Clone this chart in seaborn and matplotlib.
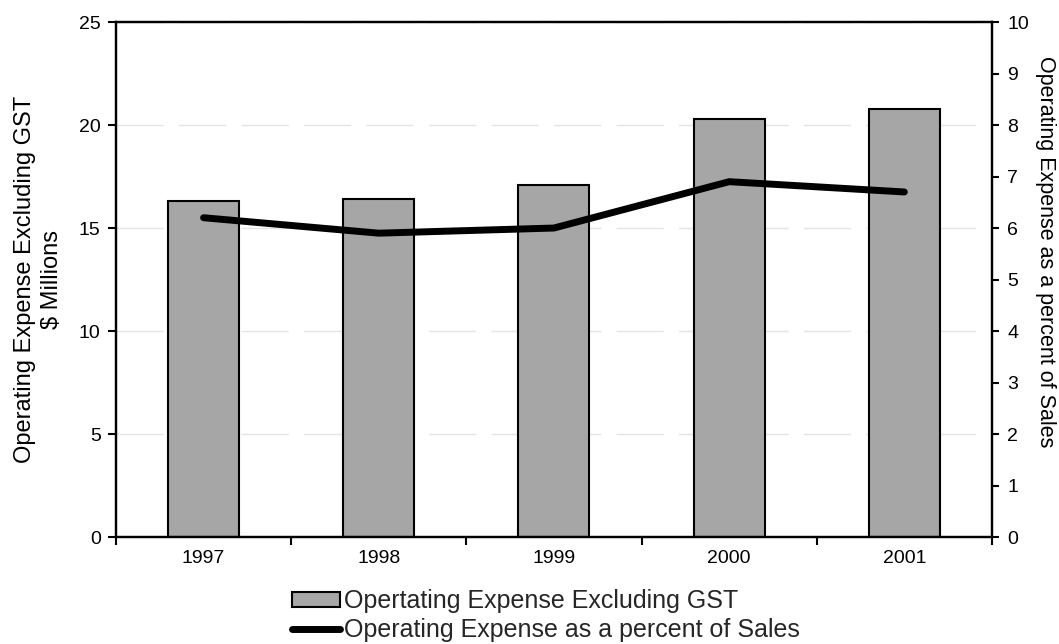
import numpy as np
import pandas as pd
import matplotlib
matplotlib.use("Agg")
import matplotlib.pyplot as plt
import seaborn as sns

# Operating expense data by year
years = ["1997", "1998", "1999", "2000", "2001"]
expense_millions = [16.3, 16.4, 17.1, 20.3, 20.8]
expense_pct_sales = [6.2, 5.9, 6.0, 6.9, 6.7]
left_ticks = [0, 5, 10, 15, 20, 25]
right_ticks = list(range(0, 11))

bar_label = "Opertating Expense Excluding GST"
line_label = "Operating Expense as a percent of Sales"

df = pd.DataFrame({"year": years, "expense": expense_millions, "pct": expense_pct_sales})

sns.set_theme(style="white")
plt.rcParams["font.family"] = ["Liberation Sans", "DejaVu Sans"]

fig = plt.figure(figsize=(10.59, 6.44), dpi=100)
ax = fig.add_axes([0.1095, 0.1661, 0.8272, 0.7997])

sns.barplot(data=df, x="year", y="expense", ax=ax, color="#a6a6a6",
            saturation=1, width=0.405, edgecolor="black", linewidth=1.5,
            zorder=2)

ax2 = ax.twinx()
sns.pointplot(data=df, x="year", y="pct", ax=ax2, color="black",
              markers="", linestyles="-", linewidth=5)
for ln in ax2.lines:
    ln.set_solid_capstyle("round")
    ln.set_solid_joinstyle("round")

# Axes limits and ticks
ax.set_xlim(-0.5, len(years) - 0.5)
ax.set_ylim(0, 25)
ax.set_yticks(left_ticks)
ax2.set_ylim(0, 10)
ax2.set_yticks(right_ticks)

# Major ticks at category boundaries, labels centered on categories
ax.set_xticks(np.arange(-0.5, len(years), 1.0))
ax.set_xticklabels([])
ax.set_xticks(np.arange(len(years)), minor=True)
ax.set_xticklabels(years, minor=True)
ax.tick_params(axis="x", which="major", direction="out", length=6, width=1.5,
               color="black", bottom=True)
ax.tick_params(axis="x", which="minor", length=0, pad=9, labelsize=14,
               labelcolor="black")
ax.tick_params(axis="y", direction="out", length=6, width=1.5, color="black",
               left=True, labelsize=14, labelcolor="black", pad=5)
ax2.tick_params(axis="y", direction="out", length=5, width=1.5, color="black",
                right=True, labelsize=14, labelcolor="black", pad=6)

# Light dashed gridlines
ax.yaxis.grid(True, color="#e4e4e4", linestyle=(0, (34, 11)), linewidth=1.0)
ax.set_axisbelow(True)
ax2.grid(False)

for a in (ax, ax2):
    for sp in a.spines.values():
        sp.set_visible(True)
        sp.set_color("black")
        sp.set_linewidth(1.6)

ax.set_xlabel("")
ax.set_ylabel("Operating Expense Excluding GST\n$ Millions", fontsize=17,
              color="black", linespacing=1.3, va="center", ha="center")
ax.yaxis.set_label_coords(-0.088, 0.5)
ax2.set_ylabel(line_label, fontsize=15.5, color="black", rotation=-90,
               va="center", ha="center")
ax2.yaxis.set_label_coords(1.061, 0.555)

handles = [ax.patches[0], ax2.lines[0]]
fig.legend(handles, [bar_label, line_label], loc="upper left",
           bbox_to_anchor=(292 / 1059, 1 - 589 / 644), frameon=False,
           fontsize=18, handlelength=1.9, handleheight=0.55, handletextpad=0.2,
           labelspacing=0.2, borderpad=0, borderaxespad=0)

fig.savefig("out.png", dpi=100)
